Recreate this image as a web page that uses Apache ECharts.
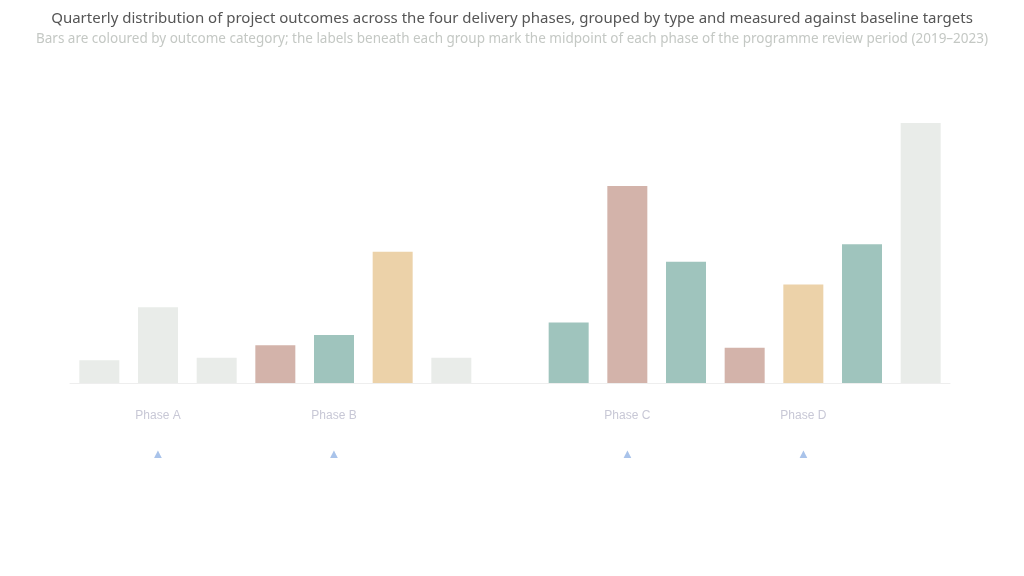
<!DOCTYPE html>
<html>
<head>
<meta charset="utf-8">
<script src="https://cdn.jsdelivr.net/npm/echarts@6/dist/echarts.min.js"></script>
<style>html,body{margin:0;padding:0;background:#fff}#c{width:1024px;height:576px}</style>
</head>
<body>
<div id="c"></div>
<script>
const categories = ['Q1','Q2','Q3','Q4','Q5','Q6','Q7','Q8','Q9','Q10','Q11','Q12','Q13','Q14','Q15'];
const values = [9, 30, 10, 15, 19, 52, 10, null, 24, 78, 48, 14, 39, 55, 103];
const groups = ['base','base','base','red','green','tan','base','base','green','red','green','red','tan','green','base'];
const tickLabels = ['', 'Phase A', '', '', 'Phase B', '', '', '', '', 'Phase C', '', '', 'Phase D', '', ''];
const tickMarks = ['', '▲', '', '', '▲', '', '', '', '', '▲', '', '', '▲', '', ''];
const palette = {base:'#e9ece9', red:'#d3b3aa', green:'#9fc4bd', tan:'#ecd2a9'};

const chart = echarts.init(document.getElementById('c'));
chart.setOption({
  animation:false,
  title:{
    text:'Quarterly distribution of project outcomes across the four delivery phases, grouped by type and measured against baseline targets',
    subtext:'Bars are coloured by outcome category; the labels beneath each group mark the midpoint of each phase of the programme review period (2019–2023)',
    left:'center', top:6,
    textStyle:{fontSize:15,color:'#555',fontWeight:'normal',fontFamily:'Noto Sans'},
    subtextStyle:{fontSize:13.5,color:'#c4c8c4',fontFamily:'Noto Sans'}, itemGap:6
  },
  grid:{left:70,right:74,top:80,bottom:193},
  xAxis:{type:'category',data:categories,
    axisLine:{lineStyle:{color:'#eee'}},axisTick:{show:false},
    axisLabel:{interval:0,margin:14,
      rich:{a:{color:'#c8c8d6',fontSize:12,lineHeight:38},b:{color:'#a9c3ea',fontSize:13,lineHeight:38}},
      formatter:(v,i)=>tickLabels[i]?'{a|'+tickLabels[i]+'}\n{b|'+tickMarks[i]+'}':''}},
  yAxis:{type:'value',min:0,max:120,show:false,splitLine:{show:false}},
  series:[{type:'bar',barWidth:40,
    data:values.map((v,i)=>({value:v,itemStyle:{color:palette[groups[i]]}}))}]
});
</script>
</body>
</html>
